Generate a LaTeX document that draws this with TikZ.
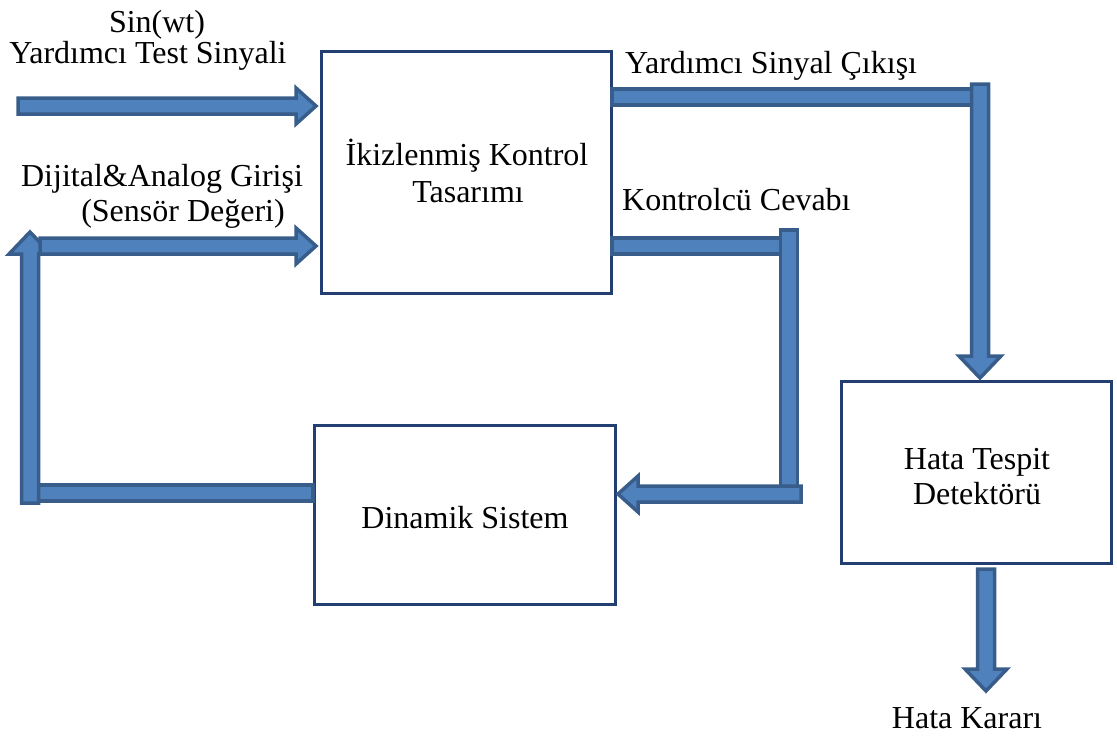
\documentclass[tikz,border=0pt]{standalone}
\usepackage{fontspec}
\setmainfont{Liberation Serif}
\definecolor{arrowfill}{RGB}{79,129,189}
\definecolor{arrowedge}{RGB}{56,93,138}
\definecolor{boxedge}{RGB}{35,62,112}
\tikzset{
  blockarrow/.style={fill=arrowfill, draw=arrowedge, line width=3.5pt, line join=miter},
  stagebox/.style={draw=boxedge, line width=3.5pt, fill=white, rectangle, inner sep=0pt},
  txt/.style={font=\fontsize{32}{38}\selectfont, anchor=base, inner sep=0pt}
}
% horizontal block arrow: start x, tip x, centre y
\newcommand\harrow[3]{%
  \pgfmathsetmacro\hs{sign(#2-(#1))}%
  \pgfmathsetmacro\hb{#2-\hs*20}%
  \draw[blockarrow] (#1,#3-8) -- (\hb,#3-8) -- (\hb,#3-18) -- (#2,#3)
    -- (\hb,#3+18) -- (\hb,#3+8) -- (#1,#3+8) -- cycle;}
% vertical block arrow: centre x, start y, tip y
\newcommand\varrow[3]{%
  \pgfmathsetmacro\vs{sign(#3-(#2))}%
  \pgfmathsetmacro\vb{#3-\vs*22}%
  \draw[blockarrow] (#1-8.5,#2) -- (#1-8.5,\vb) -- (#1-21,\vb) -- (#1,#3)
    -- (#1+21,\vb) -- (#1+8.5,\vb) -- (#1+8.5,#2) -- cycle;}
% plain bars
\newcommand\flatbar[3]{\draw[blockarrow] (#1,#3-8) rectangle (#2,#3+8);}
\newcommand\uprightbar[3]{\draw[blockarrow] (#1-8.5,#2) rectangle (#1+8.5,#3);}
\begin{document}
\begin{tikzpicture}[x=1pt,y=-1pt]
\useasboundingbox (0,0) rectangle (1117,736);

% blocks
\node[stagebox, minimum width=290pt, minimum height=242pt] (ctrl) at (466.5,172.5) {};
\node[stagebox, minimum width=301pt, minimum height=179pt] (dyn) at (465,515) {};
\node[stagebox, minimum width=270pt, minimum height=182pt] (det) at (976.5,472.5) {};

% test signal input
\harrow{18}{316}{106}
% auxiliary signal output to the detector
\flatbar{612}{982}{97}
\varrow{980}{84}{378}
% controller response to the dynamic system
\flatbar{612}{790}{246}
\uprightbar{789}{230}{500}
\harrow{801}{618}{494}
% sensor feedback loop
\flatbar{313}{30}{493}
\varrow{30}{503}{232}
\harrow{40}{316}{246}
% fault decision
\varrow{986}{569}{691}

% texts
\node[txt] (sinlbl) at (157,32) {Sin(wt)};
\node[txt] (testlbl) at (148,63) {Yardımcı Test Sinyali};
\node[txt] (diglbl) at (162,186) {Dijital\&Analog Girişi};
\node[txt] (senslbl) at (183,221) {(Sensör Değeri)};
\node[txt] (ctl1) at (467,165) {İkizlenmiş Kontrol};
\node[txt] (ctl2) at (468,202) {Tasarımı};
\node[txt, anchor=base west] (outlbl) at (625,73) {Yardımcı Sinyal Çıkışı};
\node[txt, anchor=base west] (resplbl) at (622,210) {Kontrolcü Cevabı};
\node[txt] (dynlbl) at (465,528) {Dinamik Sistem};
\node[txt] (det1) at (977,469) {Hata Tespit};
\node[txt] (det2) at (977,504) {Detektörü};
\node[txt] (declbl) at (967,728) {Hata Kararı};
\end{tikzpicture}
\end{document}
